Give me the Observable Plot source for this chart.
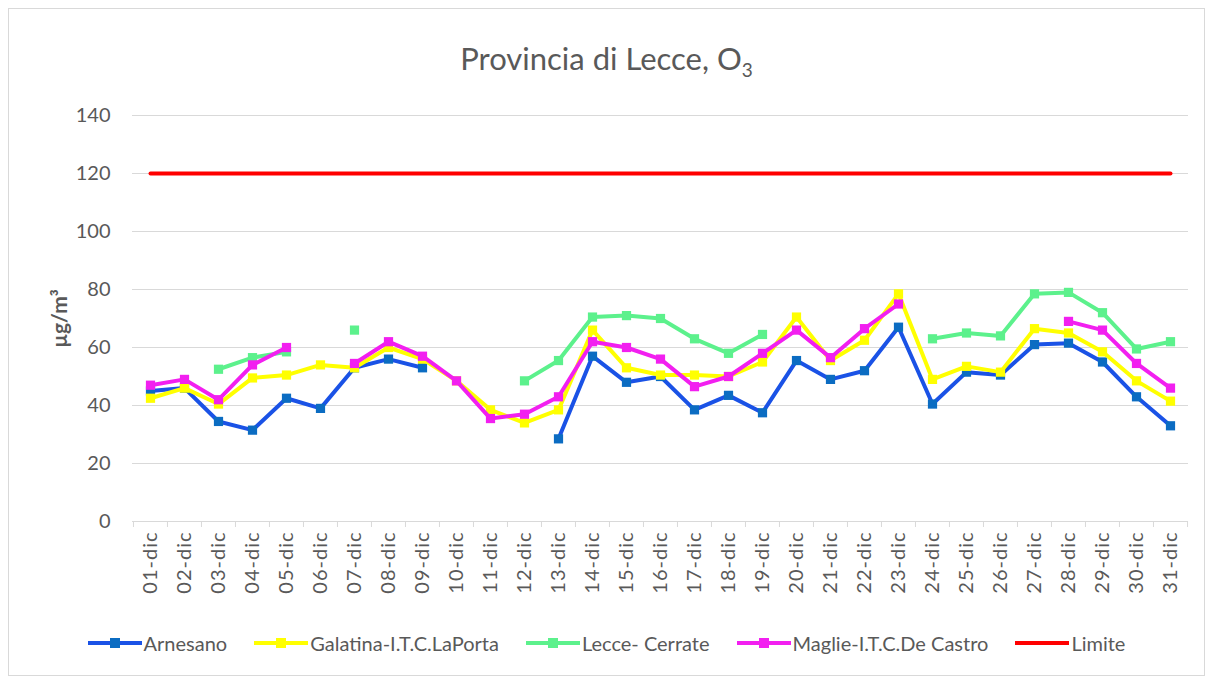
<!DOCTYPE html>
<html><head><meta charset="utf-8">
<script src="https://cdn.jsdelivr.net/npm/d3@7"></script>
<script src="https://cdn.jsdelivr.net/npm/@observablehq/plot@0.6"></script>
<style>
body{margin:0;background:#fff;font-family:Lato,"Noto Sans",sans-serif}
#frame{position:relative;width:1213px;height:681px;overflow:hidden;background:#fff}
#border{position:absolute;left:8px;top:8px;width:1197px;height:668px;border:1px solid #d9d9d9;box-sizing:border-box}
#title{position:absolute;top:39px;left:0;width:1213px;text-align:center;font-size:31px;color:#595959}
#title sub{font-size:19px;vertical-align:-7px;line-height:0}
#chart{position:absolute;top:90px;left:0}
#legend{position:absolute;top:631px;left:0;width:1213px;display:flex;justify-content:center;gap:27px;font-size:20px;color:#595959}
#legend .item{display:flex;align-items:center;gap:2px}
g[aria-label="y-axis label"] text{font-weight:bold;font-size:21px}
g[aria-label="x-axis tick label"] text{letter-spacing:1px}
</style></head>
<body><div id="frame"><div id="border"></div><div id="title">Provincia di Lecce, O<sub>3</sub></div><div id="chart"></div><div id="legend"></div></div>
<script>
const days = ["01-dic","02-dic","03-dic","04-dic","05-dic","06-dic","07-dic","08-dic","09-dic","10-dic","11-dic","12-dic","13-dic","14-dic","15-dic","16-dic","17-dic","18-dic","19-dic","20-dic","21-dic","22-dic","23-dic","24-dic","25-dic","26-dic","27-dic","28-dic","29-dic","30-dic","31-dic"];
const arnesano = [45,46,34.5,31.5,42.5,39,53,56,53,null,null,null,28.5,57,48,50,38.5,43.5,37.5,55.5,49,52,67,40.5,51.5,50.5,61,61.5,55,43,33];
const galatina = [42.5,46,40.5,49.5,50.5,54,53,60,56,48.5,38.5,34,38.5,66,53,50.5,50.5,50,55,70.5,55.5,62.5,78.5,49,53.5,51.5,66.5,65,58.5,48.5,41.5];
const cerrate = [null,null,52.5,56.5,58.5,null,66,null,null,null,null,48.5,55.5,70.5,71,70,63,58,64.5,null,null,null,null,63,65,64,78.5,79,72,59.5,62];
const maglie = [47,49,42,54,60,null,54.5,62,57,48.5,35.5,37,43,62,60,56,46.5,50,58,66,56.5,66.5,75,null,null,null,null,69,66,54.5,46];
const limite = [120,120,120,120,120,120,120,120,120,120,120,120,120,120,120,120,120,120,120,120,120,120,120,120,120,120,120,120,120,120,120];
const yTicks = [0,20,40,60,80,100,120,140];

const series = [
  {name:"Arnesano", values:arnesano, line:"#1a52e6", marker:"#0b6cc2", markers:true},
  {name:"Galatina-I.T.C.LaPorta", values:galatina, line:"#ffff00", marker:"#ffff00", markers:true},
  {name:"Lecce- Cerrate", values:cerrate, line:"#5cf18c", marker:"#5cf18c", markers:true},
  {name:"Maglie-I.T.C.De Castro", values:maglie, line:"#f21ff0", marker:"#f21ff0", markers:true},
  {name:"Limite", values:limite, line:"#ff0000", marker:"#ff0000", markers:false}
];

const W = 1213, H = 521, ML = 132, MR = 25, MT = 25, MB = 90;
const step = (W - ML - MR) / days.length;

const marks = [
  Plot.gridY(yTicks, {stroke:"#d9d9d9", strokeOpacity:1}),
  Plot.ruleY([0], {stroke:"#d9d9d9"}),
  Plot.axisX({tickSize:6, tickFormat:() => "", dx:-step/2, stroke:"#d9d9d9", label:null}),
  Plot.axisX({ticks:[days[days.length-1]], tickSize:6, tickFormat:() => "", dx:step/2, stroke:"#d9d9d9", label:null}),
  Plot.axisX({tickSize:0, tickRotate:-90, tickPadding:10, fontSize:20, fill:"#595959", label:null}),
  Plot.axisY({ticks:yTicks, tickSize:0, tickPadding:22, fontSize:20, fill:"#595959", label:"µg/m³", labelArrow:"none", labelAnchor:"center", labelOffset:80})
];
for (const s of series) {
  const rows = days.map((d,i) => ({day:d, value:s.values[i]}));
  marks.push(Plot.line(rows, {x:"day", y:"value", stroke:s.line, strokeWidth:4, curve:"linear"}));
  if (s.markers) marks.push(Plot.dot(rows.filter(r => r.value != null), {x:"day", y:"value", symbol:"square", r:5.2, fill:s.marker, stroke:"none"}));
}

const chart = Plot.plot({
  width:W, height:H, marginLeft:ML, marginRight:MR, marginTop:MT, marginBottom:MB,
  style:{fontFamily:"Lato, 'Noto Sans', sans-serif", color:"#595959", background:"transparent"},
  x:{type:"point", domain:days, padding:0.5, label:null},
  y:{domain:[0,140]},
  marks
});
document.getElementById("chart").appendChild(chart);

const legend = document.getElementById("legend");
for (const s of series) {
  const item = document.createElement("div");
  item.className = "item";
  const sw = `<svg width="54" height="14"><line x1="0" y1="7" x2="54" y2="7" stroke="${s.line}" stroke-width="4"/>` +
    (s.markers ? `<rect x="22" y="2" width="10" height="10" fill="${s.marker}"/>` : "") + `</svg>`;
  item.innerHTML = sw + `<span>${s.name}</span>`;
  legend.appendChild(item);
}
</script></body></html>
